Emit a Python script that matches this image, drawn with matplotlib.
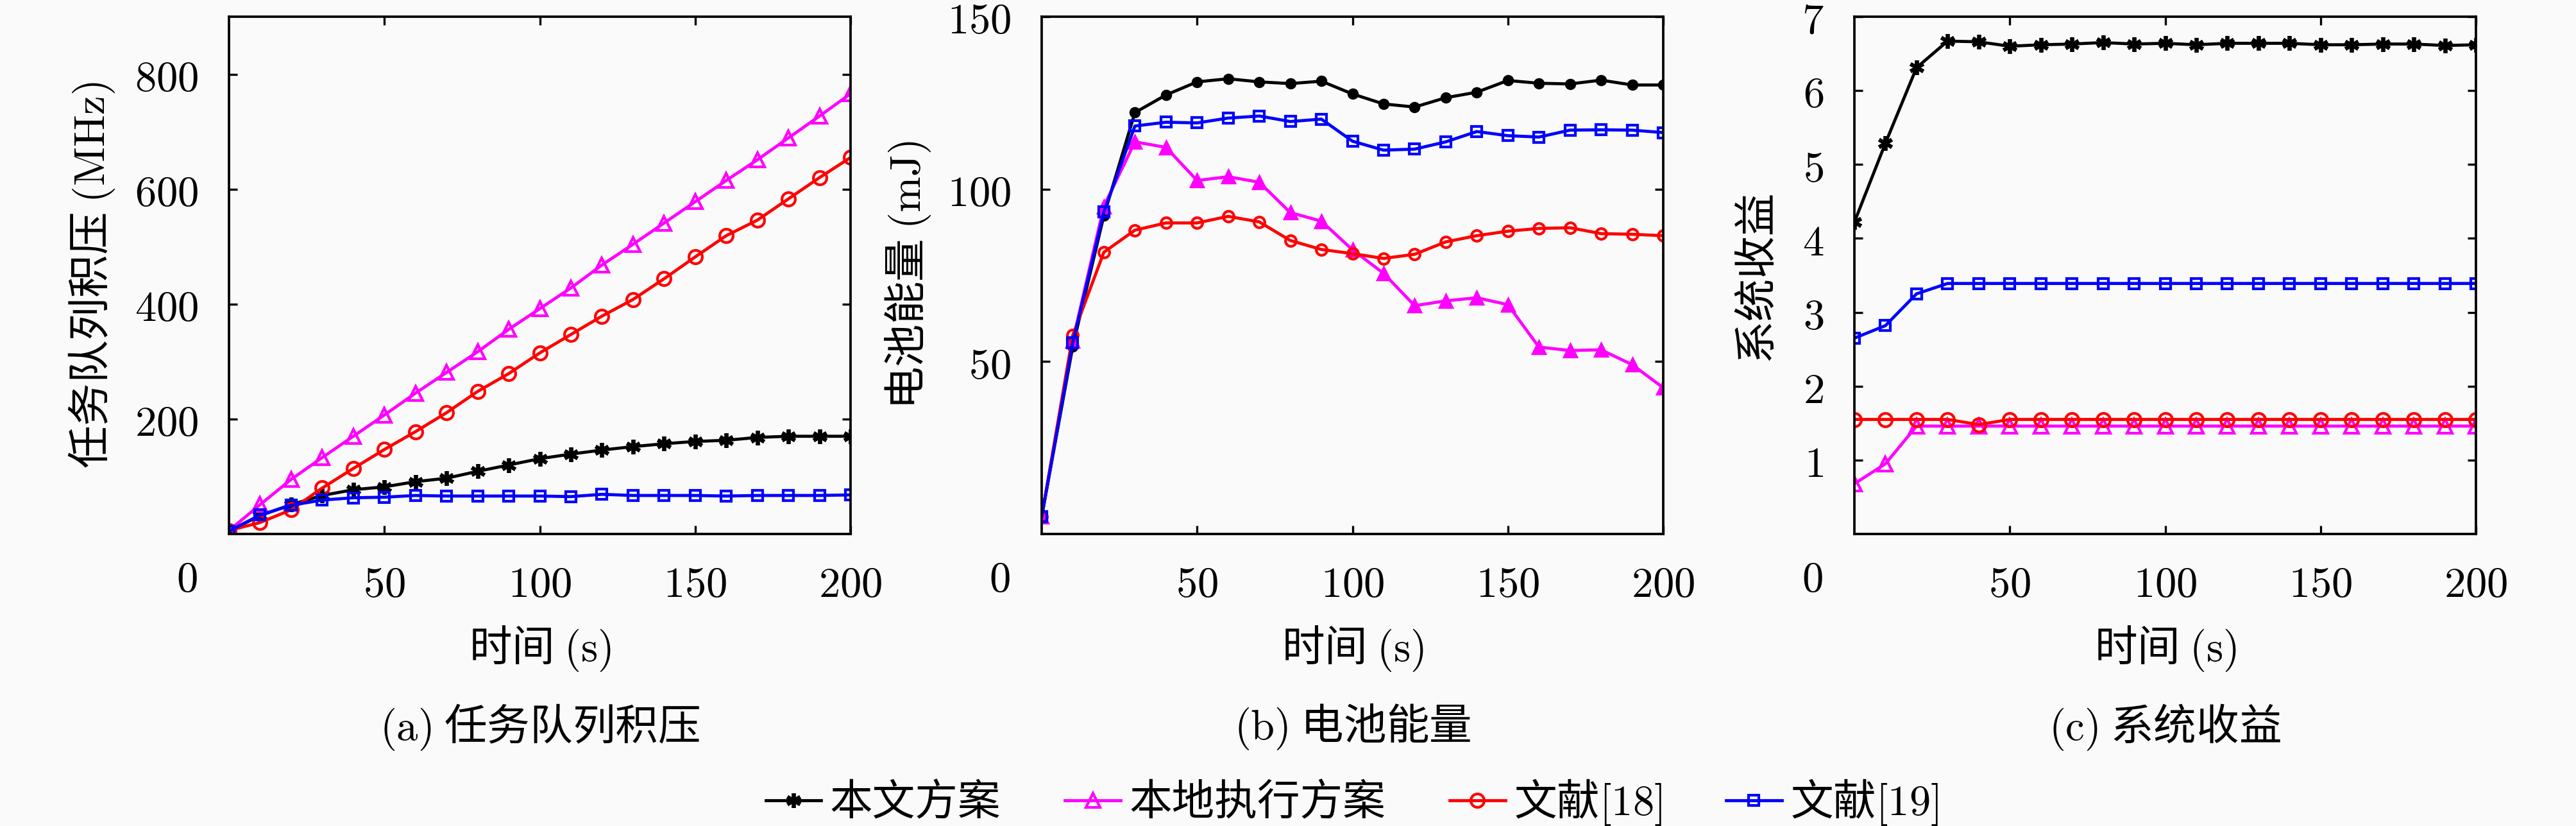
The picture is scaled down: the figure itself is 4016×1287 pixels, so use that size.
import numpy as np
import matplotlib
matplotlib.use("Agg")
import matplotlib.pyplot as plt

plt.rcParams['font.family'] = ['Noto Sans CJK SC', 'DejaVu Sans']
plt.rcParams['mathtext.fontset'] = 'cm'
plt.rcParams['axes.unicode_minus'] = False

# time steps (s)
t = [0, 10, 20, 30, 40, 50, 60, 70, 80, 90, 100,
     110, 120, 130, 140, 150, 160, 170, 180, 190, 200]

names = ['本文方案', '本地执行方案', '文献$[18]$', '文献$[19]$']
colors = ['#000000', '#ff00ff', '#ff0000', '#0000ff']

# (a) task queue backlog (MHz)
queue_ours = [5, 32, 51, 67, 77, 82, 91, 97, 109, 120, 131,
              139, 146, 152, 157, 161, 163, 168, 170, 170, 170]
queue_local = [6, 51, 95, 133, 170, 207, 245, 281, 317, 356, 392,
               428, 468, 504, 541, 578, 615, 651, 689, 727, 766]
queue_ref18 = [6, 20, 42, 80, 114, 147, 178, 211, 248, 279, 315,
               347, 379, 408, 444, 482, 519, 546, 583, 620, 655]
queue_ref19 = [5, 33, 50, 59, 63, 64, 67, 66, 66, 66, 66,
               65, 69, 67, 67, 67, 66, 67, 67, 67, 68]

# (b) battery energy (mJ)
batt_ours = [5, 54.4, 92.3, 122.2, 127.3, 131.1, 132.0, 131.1, 130.6, 131.3, 127.6,
             124.7, 123.8, 126.5, 128.1, 131.5, 130.7, 130.5, 131.6, 130.2, 130.2]
batt_local = [5, 56, 95, 113.7, 112.1, 102.5, 103.6, 102.0, 93.2, 90.7, 82.4,
              75.6, 66.2, 67.6, 68.5, 66.5, 54.2, 53.2, 53.4, 49.1, 42.4]
batt_ref18 = [5, 57.6, 81.7, 88.1, 90.2, 90.2, 92.1, 90.5, 85.1, 82.5, 81.3,
              79.9, 81.1, 84.7, 86.5, 87.8, 88.6, 88.8, 87.1, 86.9, 86.5]
batt_ref19 = [5, 55.5, 93.4, 118.3, 119.4, 119.2, 120.6, 121.2, 119.6, 120.3, 113.9,
              111.3, 111.6, 113.7, 116.7, 115.5, 115.1, 117.1, 117.2, 117.1, 116.4]

# (c) system utility
util_ours = [4.22, 5.29, 6.31, 6.67, 6.66, 6.60, 6.62, 6.63, 6.65, 6.63, 6.64,
             6.62, 6.64, 6.64, 6.64, 6.62, 6.62, 6.63, 6.63, 6.61, 6.62]
util_local = [0.68, 0.95, 1.46, 1.46, 1.46, 1.46, 1.46, 1.46, 1.46, 1.46, 1.46,
              1.46, 1.46, 1.46, 1.46, 1.46, 1.46, 1.46, 1.46, 1.46, 1.46]
util_ref18 = [1.55, 1.55, 1.55, 1.55, 1.48, 1.55, 1.55, 1.55, 1.55, 1.55, 1.55,
              1.55, 1.55, 1.55, 1.55, 1.55, 1.55, 1.55, 1.55, 1.55, 1.55]
util_ref19 = [2.65, 2.82, 3.25, 3.39, 3.39, 3.39, 3.39, 3.39, 3.39, 3.39, 3.39,
              3.39, 3.39, 3.39, 3.39, 3.39, 3.39, 3.39, 3.39, 3.39, 3.39]

W, H = 4016, 1287
fig = plt.figure(figsize=(W / 300, H / 300), dpi=300, facecolor='#fafafa')

lefts = [357, 1624, 2891]
aw, top, bot = 969, 26, 832
axes = [fig.add_axes([l / W, 1 - bot / H, aw / W, (bot - top) / H]) for l in lefts]

mk_a = [dict(marker=(6, 2, 0), ms=5.5, mew=1.4),
        dict(marker='^', ms=5.5, mfc='none', mew=1.0),
        dict(marker='o', ms=5, mfc='none', mew=1.0),
        dict(marker='s', ms=4, mfc='none', mew=1.0)]
mk_b = [dict(marker='o', ms=3.4, mew=0.8),
        dict(marker='^', ms=5, mew=0.8),
        dict(marker='o', ms=4, mfc='none', mew=1.0),
        dict(marker='s', ms=4, mfc='none', mew=1.0)]

series = [
    ([queue_ours, queue_local, queue_ref18, queue_ref19], mk_a),
    ([batt_ours, batt_local, batt_ref18, batt_ref19], mk_b),
    ([util_ours, util_local, util_ref18, util_ref19], mk_a),
]

for ax, (ys, mks) in zip(axes, series):
    ax.set_facecolor('#fafafa')
    for y, c, n, m in zip(ys, colors, names, mks):
        ax.plot(t, y, color=c, lw=1.15, label=n, **m)
    ax.set_xlim(0, 200)
    ax.set_xticks([50, 100, 150, 200], ['$50$', '$100$', '$150$', '$200$'])
    ax.tick_params(direction='in', top=True, right=True, length=3.2, width=0.8,
                   labelsize=16)
    ax.tick_params(axis='x', pad=11)
    ax.tick_params(axis='y', pad=11.5)
    for s in ax.spines.values():
        s.set_linewidth(0.9)
    ax.text(-0.068, -0.089, '$0$', transform=ax.transAxes, ha='center',
            va='center', fontsize=16)
    ax.set_xlabel('时间 $(\\mathrm{s})$', fontsize=16, va='center')
    ax.xaxis.set_label_coords(0.5, -0.221)

axa, axb, axc = axes
axa.set_ylim(0, 900)
axa.set_yticks([200, 400, 600, 800], ['$200$', '$400$', '$600$', '$800$'])
axa.set_ylabel('任务队列积压 $(\\mathrm{MHz})$', fontsize=16, va='center')
axa.yaxis.set_label_coords(-214 / aw, 0.5)

axb.set_ylim(0, 150)
axb.set_yticks([50, 100, 150], ['$50$', '$100$', '$150$'])
axb.set_ylabel('电池能量 $(\\mathrm{mJ})$', fontsize=16, va='center')
axb.yaxis.set_label_coords(-209 / aw, 0.5)

axc.set_ylim(0, 7)
axc.set_yticks([1, 2, 3, 4, 5, 6, 7], ['$%d$' % i for i in range(1, 8)])
axc.set_ylabel('系统收益', fontsize=16, va='center')
axc.yaxis.set_label_coords(-154 / aw, 0.5)

captions = ['$(\\mathrm{a})$ 任务队列积压', '$(\\mathrm{b})$ 电池能量',
            '$(\\mathrm{c})$ 系统收益']
for ax, cap in zip(axes, captions):
    ax.text(0.5, -0.373, cap, transform=ax.transAxes, ha='center',
            va='center', fontsize=16)

handles, labels = axa.get_legend_handles_labels()
fig.legend(handles, labels, loc='center', bbox_to_anchor=(2108 / W, 1 - 1250 / H),
           ncol=4, frameon=False, fontsize=16, handlelength=1.3,
           handletextpad=0.2, columnspacing=1.5)

fig.savefig('out.png', dpi=300, facecolor=fig.get_facecolor())
